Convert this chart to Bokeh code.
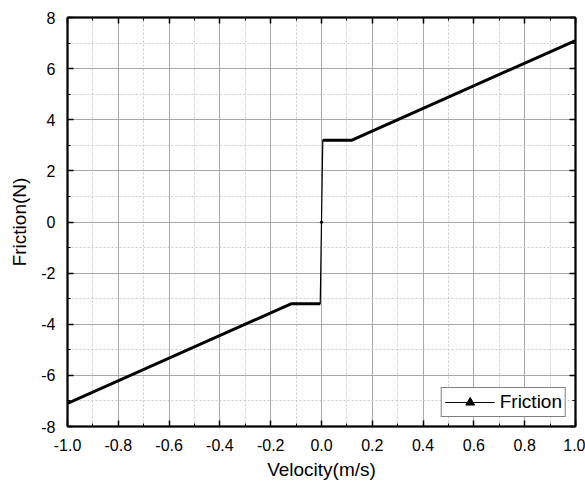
from bokeh.plotting import figure
from bokeh.models import (LinearAxis, Range1d, SingleIntervalTicker, Legend, LegendItem,
                          CustomJSTickFormatter)
from bokeh.embed import file_html
from bokeh.resources import INLINE

# Data (breakpoints of the friction curve)
velocity = [-1.0, -0.12, -0.005, 0.0, 0.005, 0.12, 1.0]
friction = [-7.1, -3.2, -3.2, 0.0, 3.2, 3.2, 7.1]
x_ticks = [-1.0, -0.8, -0.6, -0.4, -0.2, 0.0, 0.2, 0.4, 0.6, 0.8, 1.0]
y_ticks = [-8, -6, -4, -2, 0, 2, 4, 6, 8]

FONT = "Liberation Sans"

p = figure(width=585, height=486, frame_width=508, frame_height=409,
           x_range=Range1d(-1.0, 1.0), y_range=Range1d(-8, 8),
           output_backend="svg", toolbar_location=None,
           min_border_left=67, min_border_right=10, min_border_top=17, min_border_bottom=60,
           x_axis_label="Velocity(m/s)", y_axis_label="Friction(N)")
p.background_fill_color = "white"
p.border_fill_color = "white"
p.outline_line_color = "black"
p.outline_line_width = 1.5

xt = SingleIntervalTicker(interval=0.2, num_minor_ticks=2)
yt = SingleIntervalTicker(interval=2, num_minor_ticks=2)
p.xaxis.ticker = xt
p.yaxis.ticker = yt
p.xaxis.formatter = CustomJSTickFormatter(code="return tick.toFixed(1);")
p.yaxis.formatter = CustomJSTickFormatter(code="return tick.toFixed(0);")

for ax in [p.xaxis[0], p.yaxis[0]]:
    ax.axis_line_color = "black"
    ax.axis_line_width = 2
    ax.major_tick_in = 6
    ax.major_tick_out = 0
    ax.minor_tick_in = 3
    ax.minor_tick_out = 0
    ax.major_tick_line_color = "black"
    ax.minor_tick_line_color = "black"
    ax.major_tick_line_width = 1.5
    ax.minor_tick_line_width = 1
    ax.major_label_text_font = FONT
    ax.major_label_text_font_size = "16px"
    ax.major_label_text_color = "black"
    ax.axis_label_text_font = FONT
    ax.axis_label_text_font_size = "19px"
    ax.axis_label_text_font_style = "normal"
    ax.axis_label_text_color = "black"
p.xaxis[0].major_label_standoff = 12
p.yaxis[0].major_label_standoff = 12
p.xaxis[0].axis_label_standoff = 5
p.yaxis[0].axis_label_standoff = 8

for loc, tk in [("above", xt), ("right", yt)]:
    ax = LinearAxis(ticker=tk, formatter=CustomJSTickFormatter(code="return '';"),
                    axis_line_color="black", axis_line_width=2,
                    major_tick_in=6, major_tick_out=0, minor_tick_in=3, minor_tick_out=0,
                    major_tick_line_width=1.5, major_label_standoff=0)
    p.add_layout(ax, loc)

# grids
p.xgrid.grid_line_color = "#a8a8a8"
p.ygrid.grid_line_color = "#a8a8a8"
p.xgrid.grid_line_width = 1
p.ygrid.grid_line_width = 1
p.xgrid.minor_grid_line_color = "#c8c8c8"
p.ygrid.minor_grid_line_color = "#c8c8c8"
p.xgrid.minor_grid_line_dash = "2 2"
p.ygrid.minor_grid_line_dash = "2 2"

# curve
line = p.line(velocity, friction, line_color="black", line_width=1.2)
# dense markers appear as a thick band on the non-jump segments
p.multi_line([velocity[:3], velocity[4:]], [friction[:3], friction[4:]],
             line_color="black", line_width=3)
mark = p.scatter([velocity[3]], [friction[3]], marker="triangle", size=3, color="black")

legend = Legend(items=[LegendItem(label="Friction", renderers=[line, mark])],
                location="bottom_right")
legend.label_text_font = FONT
legend.label_text_font_size = "19px"
legend.label_text_color = "black"
legend.border_line_color = "black"
legend.border_line_width = 1
legend.glyph_width = 50
legend.glyph_height = 22
legend.padding = 3
legend.margin = 9
legend.spacing = 0
legend.label_standoff = 5
legend.label_height = 22
legend.background_fill_alpha = 1
p.add_layout(legend)

open("out.html", "w").write(file_html(p, INLINE))
